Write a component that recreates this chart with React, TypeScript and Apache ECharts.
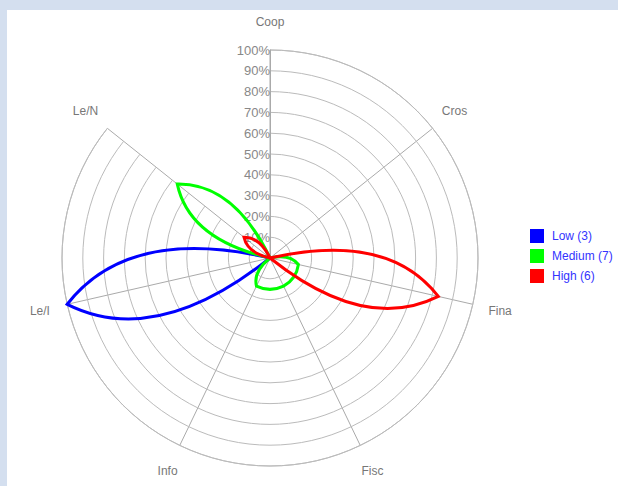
import React, { useEffect, useRef } from 'react';
import * as echarts from 'echarts';

const categories = ['Coop', 'Cros', 'Fina', 'Fisc', 'Info', 'Le/I', 'Le/N'];
const seriesNames = ['Low (3)', 'Medium (7)', 'High (6)'];
const lowValues = [0, 0, 0, 0, 0, 100, 0];
const mediumValues = [0, 0, 14, 15, 15, 0, 57];
const highValues = [0, 0, 83, 0, 0, 0, 16];
const seriesColors = ['#0000ff', '#00ff00', '#ff0000'];

const FONT = '"Liberation Sans", Arial, sans-serif';

function makeRenderItem(values: number[], color: string) {
  return (_params: any, api: any) => {
    const n = values.length;
    const c = api.coord([0, 0]);
    const pts = values.map((v, i) => api.coord([v, i]));
    const dirs = values.map((_v, i) => {
      const p = api.coord([100, i]);
      return Math.atan2(p[1] - c[1], p[0] - c[0]);
    });
    const rad = (v: number) => {
      const p = api.coord([v, 0]);
      return Math.hypot(p[0] - c[0], p[1] - c[1]);
    };
    let d = `M${pts[0][0]} ${pts[0][1]}`;
    for (let i = 0; i < n; i++) {
      const j = (i + 1) % n;
      let diff = dirs[j] - dirs[i];
      while (diff > Math.PI) diff -= 2 * Math.PI;
      while (diff <= -Math.PI) diff += 2 * Math.PI;
      const mid = dirs[i] + diff / 2;
      const rq = rad(0.7 * Math.max(values[i], values[j]) + 0.41 * Math.min(values[i], values[j]));
      const qx = c[0] + rq * Math.cos(mid);
      const qy = c[1] + rq * Math.sin(mid);
      d += ` Q${qx} ${qy} ${pts[j][0]} ${pts[j][1]}`;
    }
    d += ' Z';
    return {
      type: 'path',
      shape: { pathData: d },
      style: { fill: 'none', stroke: color, lineWidth: 3, lineJoin: 'miter' },
    };
  };
}

export default function App() {
  const ref = useRef<HTMLDivElement>(null);
  useEffect(() => {
    document.body.style.margin = '0';
    const chart = echarts.init(ref.current!, null, { renderer: 'svg' });
    const allValues = [lowValues, mediumValues, highValues];
    const radarOrder = [categories[0], ...categories.slice(1).reverse()];
    chart.setOption({
      animation: false,
      textStyle: { fontFamily: FONT },
      polar: { center: [270, 258], radius: 208 },
      angleAxis: {
        type: 'category',
        data: categories,
        startAngle: 90,
        clockwise: true,
        boundaryGap: false,
        axisLine: { show: true, lineStyle: { color: '#bbbbbb', width: 1 } },
        axisTick: { show: false },
        axisLabel: { show: false },
        splitLine: { show: true, lineStyle: { color: '#aaaaaa', width: 1 } },
      },
      radiusAxis: {
        type: 'value',
        min: 0,
        max: 100,
        interval: 10,
        axisLine: { show: true, lineStyle: { color: '#aaaaaa', width: 1 } },
        axisTick: { show: false },
        axisLabel: {
          formatter: (v: number) => (v === 0 ? '' : v + '%'),
          color: '#888888',
          fontSize: 13,
          fontFamily: FONT,
          margin: 0,
        },
        splitLine: { show: true, lineStyle: { color: '#bbbbbb', width: 1 } },
        z: 1,
      },
      radar: {
        center: [270, 258],
        radius: 208,
        startAngle: 90,
        shape: 'circle',
        indicator: radarOrder.map((name) => ({ name, max: 100 })),
        axisLine: { show: false },
        splitLine: { show: false },
        splitArea: { show: false },
        axisTick: { show: false },
        axisLabel: { show: false },
        nameGap: 28,
        axisName: { color: '#777777', fontSize: 12, fontFamily: FONT, align: 'center', verticalAlign: 'middle' },
      },
      legend: {
        orient: 'vertical',
        left: 530,
        top: 229,
        padding: 0,
        itemWidth: 14,
        itemHeight: 14,
        itemGap: 6,
        icon: 'rect',
        data: seriesNames,
        textStyle: { color: '#3333ff', fontSize: 12, fontFamily: FONT, padding: [0, 0, 0, 3] },
      },
      series: allValues.map((vals, k) => ({
        type: 'custom',
        name: seriesNames[k],
        coordinateSystem: 'polar',
        data: [[0, 0]],
        itemStyle: { color: seriesColors[k] },
        renderItem: makeRenderItem(vals, seriesColors[k]),
        z: 5,
      })),
    });
    return () => chart.dispose();
  }, []);
  return (
    <div style={{ position: 'fixed', left: 0, top: 0, width: 618, height: 486, background: '#d4dfef' }}>
      <div style={{ position: 'absolute', left: 7, top: 10, width: 611, height: 476, background: '#ffffff' }} />
      <div ref={ref} style={{ position: 'absolute', left: 0, top: 0, width: 618, height: 486 }} />
    </div>
  );
}
